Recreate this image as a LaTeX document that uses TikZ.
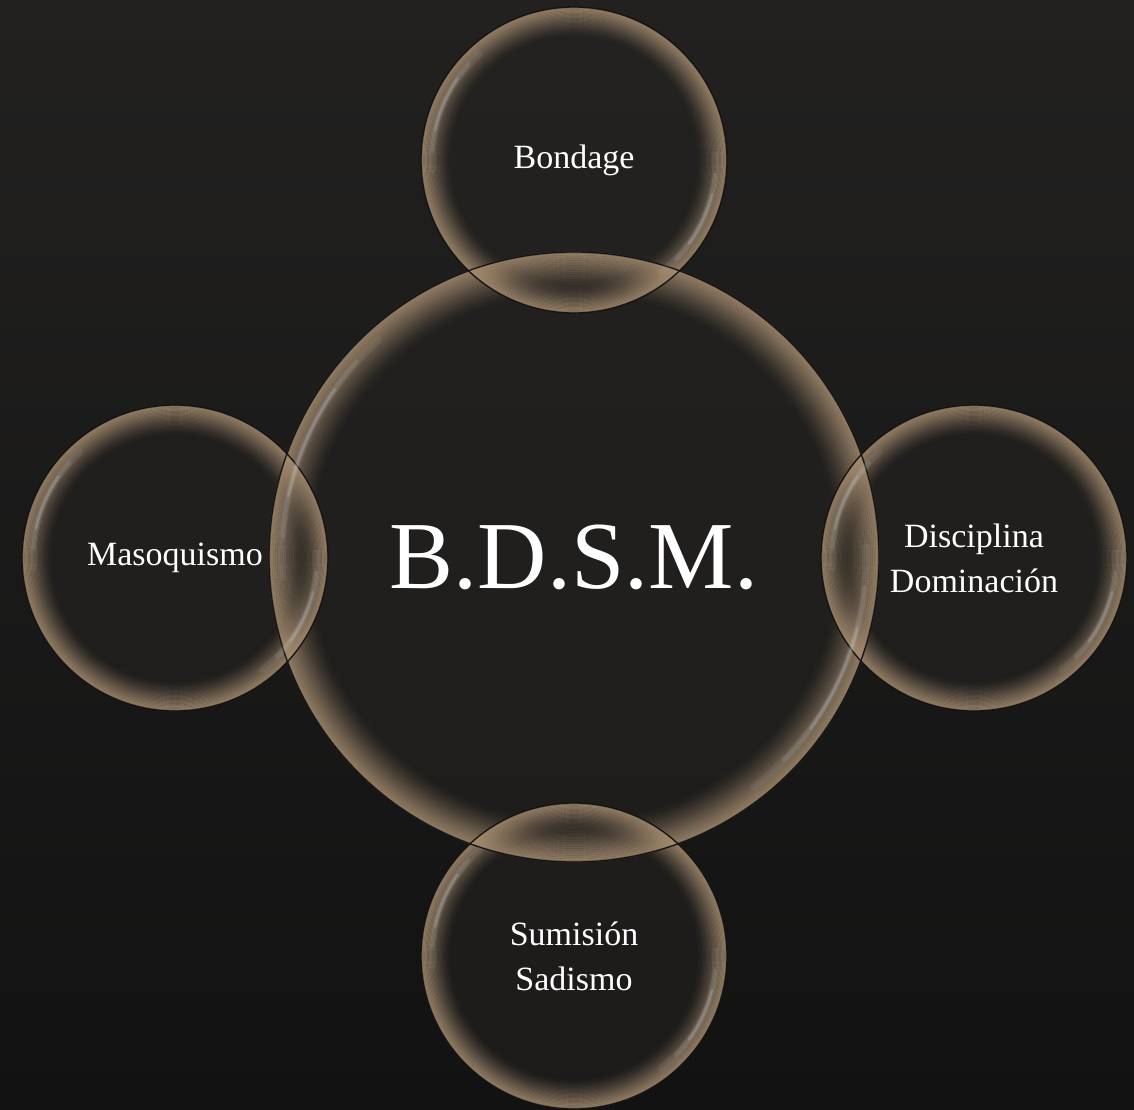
\documentclass[tikz,border=0pt]{standalone}
\usepackage{fontspec}
\setmainfont{Liberation Serif}
\definecolor{bgtop}{HTML}{222120}
\definecolor{bgbot}{HTML}{121212}
\definecolor{rim}{HTML}{A68D70}
\definecolor{shine}{HTML}{D0D6DE}
\definecolor{inner}{HTML}{262422}
\pgfdeclarelayer{bg}
\pgfsetlayers{bg,main}
\begin{document}
\begin{tikzpicture}[x=1pt,y=-1pt,
  bubble/.style={circle, inner sep=0pt, text=white, align=center,
    font=\fontsize{34}{45}\selectfont},
  bigbubble/.style={circle, inner sep=0pt, text=white, align=center,
    font=\fontsize{96}{110}\selectfont},
  shinearc/.style={shine, line cap=round}]
\useasboundingbox (0,0) rectangle (1134,1109);

% nodes (text on main layer)
\node[bigbubble, minimum size=610pt] (main) at (574,557) {B.D.S.M.};
\node[bubble, minimum size=306pt] (top) at (574,160) {Bondage};
\node[bubble, minimum size=306pt] (left) at (175,558) {Masoquismo};
\node[bubble, minimum size=306pt] (right) at (974,558) {Disciplina\\Dominación};
\node[bubble, minimum size=306pt] (bottom) at (574,956) {Sumisión\\Sadismo};

\begin{pgfonlayer}{bg}
  % background
  \shade[top color=bgtop, bottom color=bgbot] (0,0) rectangle (1134,1109);
  % interiors
  \foreach \n/\r in {main/305, top/153, left/153, right/153, bottom/153}{
    \fill[inner, fill opacity=0.55] (\n.center) circle[radius=\r pt];
  }
  % rim glows
  \foreach \n/\r/\w in {main/305/42, top/153/30, left/153/30, right/153/30, bottom/153/30}{
    \foreach \i in {0,...,23}{
      \pgfmathsetmacro\op{0.6*(1-\i/24)^1.6}
      \pgfmathsetmacro\rr{\r-1.2-\i*\w/24}
      \draw[rim, line width={1.9*\w/24 pt}, draw opacity=\op] (\n.center) circle[radius=\rr pt];
    }
  }
  % outlines
  \foreach \n/\r in {main/305, top/153, left/153, right/153, bottom/153}{
    \draw[black!92, line width=1.3pt] (\n.center) circle[radius=\r pt];
  }
  % specular highlights
  \foreach \n/\r/\d in {main/305/13, top/153/11, left/153/11, right/153/11, bottom/153/11}{
    \pgfmathsetmacro\rh{\r-\d}
    \draw[shinearc, line width=7pt, draw opacity=0.07] (\n.center) ++(132:\rh pt) arc[start angle=132, end angle=184, radius=\rh pt];
    \draw[shinearc, line width=4.5pt, draw opacity=0.12] (\n.center) ++(138:\rh pt) arc[start angle=138, end angle=176, radius=\rh pt];
    \draw[shinearc, line width=2.5pt, draw opacity=0.22] (\n.center) ++(145:\rh pt) arc[start angle=145, end angle=168, radius=\rh pt];
    \draw[shinearc, line width=7pt, draw opacity=0.07] (\n.center) ++(-52:\rh pt) arc[start angle=-52, end angle=2, radius=\rh pt];
    \draw[shinearc, line width=4.5pt, draw opacity=0.12] (\n.center) ++(-44:\rh pt) arc[start angle=-44, end angle=-6, radius=\rh pt];
    \draw[shinearc, line width=2.5pt, draw opacity=0.22] (\n.center) ++(-36:\rh pt) arc[start angle=-36, end angle=-14, radius=\rh pt];
  }
\end{pgfonlayer}
\end{tikzpicture}
\end{document}
